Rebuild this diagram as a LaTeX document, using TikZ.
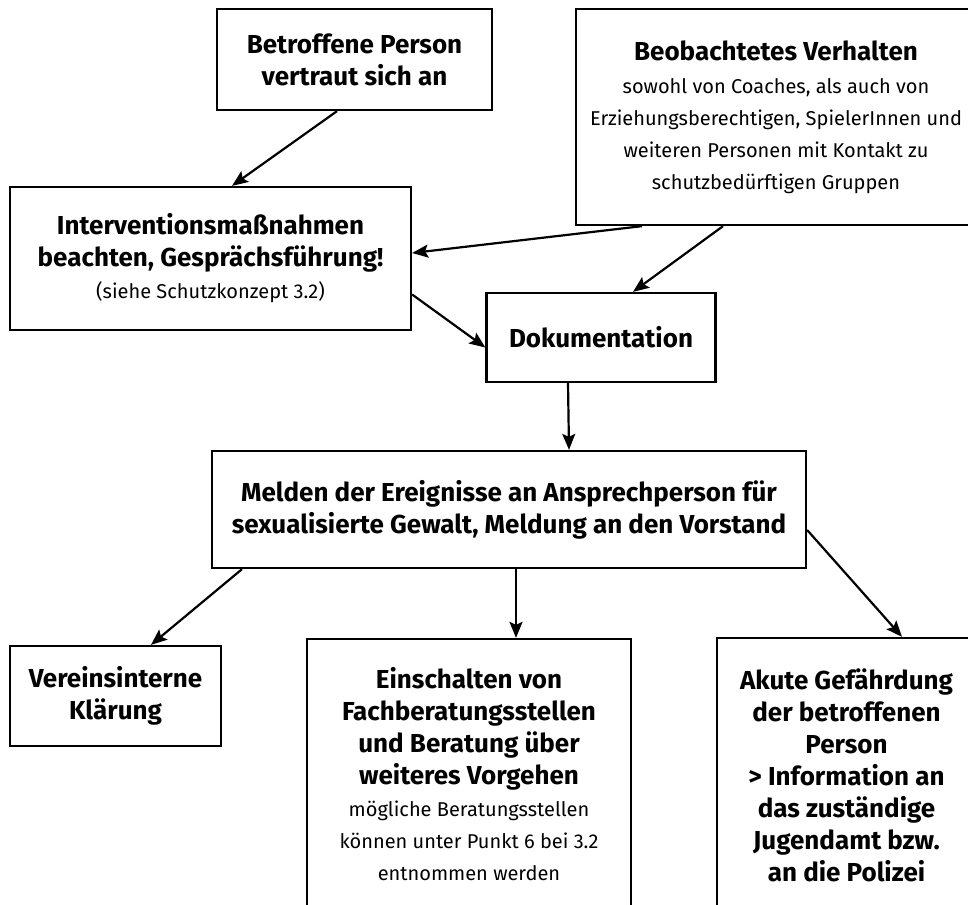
\documentclass[tikz,border=0pt]{standalone}
\usepackage{fontspec}
\setmainfont{Fira Sans}
\usetikzlibrary{arrows.meta}
\tikzset{
  box/.style={draw, line width=2.3pt, align=center, inner sep=0pt, fill=white},
  bt/.style={font=\bfseries\fontsize{26}{32}\selectfont},
  arr/.style={-{Stealth[length=16pt,width=13pt,inset=3pt]}, line width=2.2pt},
}
\newcommand{\sm}{\normalfont\fontsize{20}{29}\selectfont}
\begin{document}
\begin{tikzpicture}[x=1pt,y=-1pt]
\useasboundingbox (0,0) rectangle (968,904);
\begin{scope}
\clip (0,0) rectangle (968,904);
\node[box, bt, minimum width=275pt, minimum height=101pt] (A) at (354.5,59.5) {Betroffene Person\\vertraut sich an};
\node[box, bt, minimum width=400pt, minimum height=216pt] (B) at (776,117) {Beobachtetes Verhalten\\[1pt]
{\sm sowohl von Coaches, als auch von}\\ {\sm Erziehungsberechtigen, SpielerInnen und}\\ {\sm weiteren Personen mit Kontakt zu}\\ {\sm schutzbedürftigen Gruppen}};
\node[box, bt, minimum width=401pt, minimum height=143pt] (C) at (210.5,258.5) {Interventionsmaßnahmen\\beachten, Gesprächsführung!\\{\sm (siehe Schutzkonzept 3.2)}};
\node[box, bt, minimum width=229pt, minimum height=89pt] (D) at (601,337.5) {Dokumentation};
\node[box, bt, minimum width=594pt, minimum height=117pt] (E) at (509,509.5) {Melden der Ereignisse an Ansprechperson für\\sexualisierte Gewalt, Meldung an den Vorstand};
\node[box, bt, minimum width=211pt, minimum height=100pt] (F) at (115.5,696) {Vereinsinterne\\Klärung};
\node[box, bt, minimum width=324pt, minimum height=271pt] (G) at (469,774.5) {Einschalten von\\Fachberatungsstellen\\und Beratung über\\weiteres Vorgehen\\
{\sm mögliche Beratungsstellen}\\{\sm können unter Punkt 6 bei 3.2}\\{\sm entnommen werden}};
\node[box, bt, minimum width=259pt, minimum height=274pt] (H) at (846.5,775) {Akute Gefährdung\\der betroffenen\\Person\\> Information an\\das zuständige\\Jugendamt bzw.\\an die Polizei};
\end{scope}
\draw[arr] ([xshift=-17.5pt]A.south) -- ([xshift=21.5pt]C.north);
\draw[arr] ([xshift=-134pt]B.south) -- ([yshift=5.5pt]C.east);
\draw[arr] ([xshift=-53pt]B.south) -- ([xshift=32pt]D.north);
\draw[arr] ([yshift=-36pt]C.east) -- ([yshift=-10pt]D.west);
\draw[arr] ([xshift=-33pt]D.south) -- ([xshift=60pt]E.north);
\draw[arr] ([xshift=-267pt]E.south) -- ([xshift=35.5pt]F.north);
\draw[arr] ([xshift=7pt]E.south) -- ([xshift=47pt]G.north);
\draw[arr] ([yshift=-20.5pt]E.east) -- ([xshift=55.5pt]H.north);
\end{tikzpicture}
\end{document}
